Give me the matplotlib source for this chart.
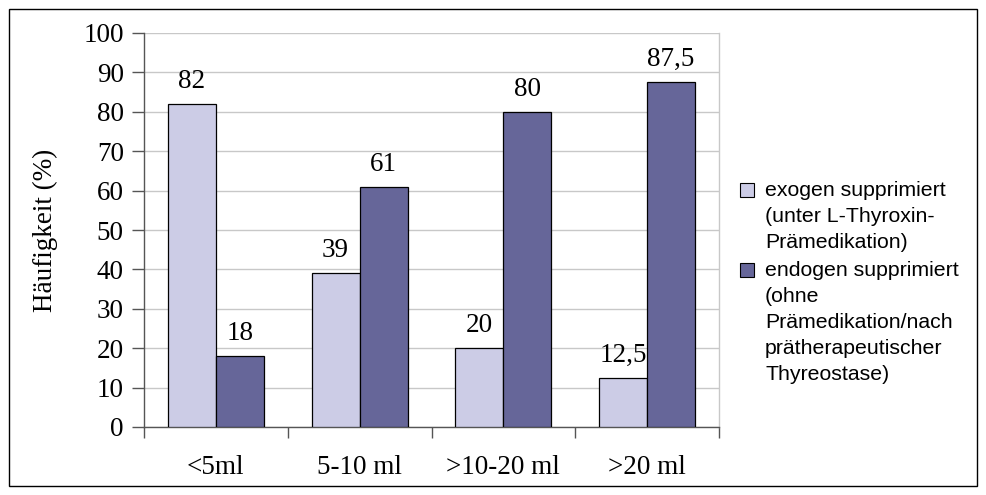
import matplotlib
matplotlib.use("Agg")
import matplotlib.pyplot as plt
from matplotlib.patches import Rectangle
import numpy as np

categories = ["<5ml", "5-10 ml", ">10-20 ml", ">20 ml"]
exogen = [82, 39, 20, 12.5]
endogen = [18, 61, 80, 87.5]
exogen_labels = ["82", "39", "20", "12,5"]
endogen_labels = ["18", "61", "80", "87,5"]
legend_texts = ["exogen supprimiert\n(unter L-Thyroxin-\nPrämedikation)",
                "endogen supprimiert\n(ohne\nPrämedikation/nach\nprätherapeutischer\nThyreostase)"]
yticks = list(range(0, 101, 10))

c_light = "#CCCCE6"
c_dark = "#666699"
serif = "Liberation Serif"
sans = "Liberation Sans"
fs = 19.5

W, H = 986, 495
fig = plt.figure(figsize=(W / 100, H / 100), dpi=100)
fig.patch.set_facecolor("white")

# outer border
fig.patches.append(Rectangle((9 / W, 1 - 486 / H), (977 - 9) / W, (486 - 9) / H,
                             transform=fig.transFigure, fill=False, edgecolor="black",
                             linewidth=1.0))

ax_l, ax_r, ax_t, ax_b = 144, 719, 33, 427
ax = fig.add_axes([ax_l / W, 1 - ax_b / H, (ax_r - ax_l) / W, (ax_b - ax_t) / H])

n = len(categories)
x = np.arange(n) + 0.5
bw = 0.334
ax.bar(x - bw / 2, exogen, width=bw, color=c_light, edgecolor="black", linewidth=0.9, zorder=3)
ax.bar(x + bw / 2, endogen, width=bw, color=c_dark, edgecolor="black", linewidth=0.9, zorder=3)

for xi, v, lab in zip(x - bw / 2, exogen, exogen_labels):
    ax.annotate(lab, (xi, v), xytext=(0, 11.5), textcoords="offset points", ha="center",
                va="baseline", fontsize=fs, family=serif)
for xi, v, lab in zip(x + bw / 2, endogen, endogen_labels):
    ax.annotate(lab, (xi, v), xytext=(0, 11.5), textcoords="offset points", ha="center",
                va="baseline", fontsize=fs, family=serif)

ax.set_xlim(0, n)
ax.set_ylim(0, 100)
ax.set_yticks(yticks)
ax.set_yticklabels([str(t) for t in yticks], fontsize=fs, family=serif)
ax.set_xticks(np.arange(n + 1))
ax.set_xticklabels([])
ax.set_xticks(x, minor=True)
ax.set_xticklabels(categories, minor=True, fontsize=fs, family=serif)
ax.tick_params(axis="x", which="minor", length=0, pad=20)
ax.tick_params(axis="x", which="major", direction="out", length=8, width=1, color="#555555")
ax.tick_params(axis="y", direction="out", length=8.5, width=1, color="#555555", pad=6)

ax.yaxis.grid(True, color="#C8C8C8", linewidth=1, zorder=0)
ax.set_axisbelow(True)
ax.spines["top"].set_visible(False)
ax.spines["right"].set_color("#C8C8C8")
ax.spines["left"].set_color("#555555")
ax.spines["bottom"].set_color("#555555")
for s in ax.spines.values():
    s.set_linewidth(1)

fig.text(45 / W, 1 - 230 / H, "Häufigkeit (%)", rotation=90, ha="center", va="center",
         fontsize=fs, family=serif)

# legend
colors = [c_light, c_dark]
tops = [190, 270]
for col, txt, yc in zip(colors, legend_texts, tops):
    fig.patches.append(Rectangle((740 / W, 1 - (yc + 7) / H), 14 / W, 14 / H,
                                 transform=fig.transFigure, facecolor=col,
                                 edgecolor="black", linewidth=0.8))
    fig.text(765 / W, 1 - (yc - 9) / H, txt, ha="left", va="top", fontsize=15.3,
             family=sans, linespacing=1.47)

fig.savefig("out.png", dpi=100)
